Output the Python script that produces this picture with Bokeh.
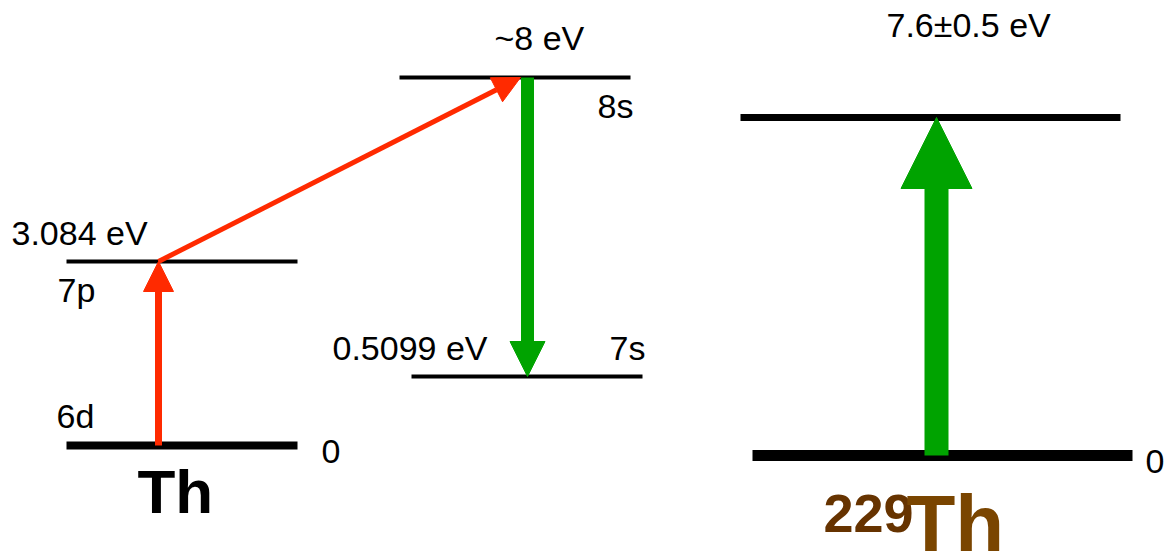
from bokeh.plotting import figure
from bokeh.models import Range1d, Arrow, NormalHead, ColumnDataSource
from bokeh.embed import file_html
from bokeh.resources import INLINE
from bokeh.core.properties import value

# ---------------- data ----------------
# atomic shell levels of Th (schematic diagram)
atom_levels = ["6d", "7p", "8s", "7s"]
atom_energy_labels = ["0", "3.084 eV", "~8 eV", "0.5099 eV"]
# nuclear levels of 229Th
nucleus_levels = ["ground", "isomer"]
nucleus_energy_labels = ["0", "7.6\u00b10.5 eV"]
# transitions: (from level, to level)
atom_transitions = [("6d", "7p"), ("7p", "8s"), ("8s", "7s")]
nucleus_transitions = [("ground", "isomer")]

# ---------------- layout (schematic, screen-like coordinates) ----------------
FONT = value("Liberation Sans")
RED = "#FF2A00"
GREEN = "#00A300"
BASE_SHIFT = 0.36  # em correction for the SVG text baseline

lvl = {
    "6d":     dict(x0=66,  x1=297,  y=445, w=8),
    "7p":     dict(x0=66,  x1=297,  y=261, w=4),
    "8s":     dict(x0=399, x1=630,  y=77,  w=4),
    "7s":     dict(x0=411, x1=642,  y=376, w=4),
    "ground": dict(x0=752, x1=1132, y=455, w=11),
    "isomer": dict(x0=740, x1=1120, y=117, w=7),
}

p = figure(width=1167, height=554, x_range=Range1d(0, 1167), y_range=Range1d(554, 0),
           output_backend="svg", toolbar_location=None, min_border=0,
           background_fill_color="white", border_fill_color="white")
p.axis.visible = False
p.grid.visible = False
p.outline_line_color = None

names = atom_levels + nucleus_levels
src = ColumnDataSource(dict(
    x0=[lvl[n]["x0"] for n in names], x1=[lvl[n]["x1"] for n in names],
    y=[lvl[n]["y"] for n in names], w=[lvl[n]["w"] for n in names]))
p.segment(x0="x0", y0="y", x1="x1", y1="y", line_width="w", line_color="black",
          line_cap="butt", source=src)

# transition arrows
arrow_style = {
    ("6d", "7p"): dict(xs=158, xe=158, lw=7, head=30, color=RED),
    ("7p", "8s"): dict(xs=158, xe=520, lw=5, head=27, color=RED),
    ("8s", "7s"): dict(xs=527, xe=527, lw=13, head=35, color=GREEN),
    ("ground", "isomer"): dict(xs=936, xe=936, lw=24, head=71, color=GREEN),
}
for tr in atom_transitions + nucleus_transitions:
    st = arrow_style[tr]
    a, b = tr
    p.add_layout(Arrow(x_start=st["xs"], y_start=lvl[a]["y"], x_end=st["xe"], y_end=lvl[b]["y"],
                       line_width=st["lw"], line_color=st["color"],
                       end=NormalHead(size=st["head"], fill_color=st["color"],
                                      line_color=st["color"], line_width=1)))

# labels: energies and level names
lab_pos = {
    "3.084 eV": (11, 245), "7p": (57, 302), "6d": (56, 428), "0@6d": (321, 463),
    "~8 eV": (494, 50), "8s": (597, 118), "0.5099 eV": (332, 360), "7s": (609, 360),
    "7.6\u00b10.5 eV": (886, 37), "0@ground": (1145, 473),
}
texts, xs, ys = [], [], []
for name, e in zip(atom_levels, atom_energy_labels):
    key = e if e != "0" else "0@" + name
    texts.append(e); xs.append(lab_pos[key][0]); ys.append(lab_pos[key][1])
    if name in lab_pos:
        texts.append(name); xs.append(lab_pos[name][0]); ys.append(lab_pos[name][1])
for name, e in zip(nucleus_levels, nucleus_energy_labels):
    key = e if e != "0" else "0@" + name
    texts.append(e); xs.append(lab_pos[key][0]); ys.append(lab_pos[key][1])


def label(x, y, text, size, **kw):
    p.text(x=x, y=y, text=text, text_font=FONT, text_font_size=f"{size}px",
           text_align="left", text_baseline="alphabetic",
           y_offset=-BASE_SHIFT * size, **kw)


label(xs, ys, texts, 34, text_color="black")
label([137], [513], ["Th"], 62, text_font_style="bold", text_color="black")
label([823], [532], ["229"], 54, text_font_style="bold", text_color="#663300")
label([906], [552], ["Th"], 80, text_font_style="bold", text_color="#7A4500")

open("out.html", "w").write(file_html(p, INLINE))
